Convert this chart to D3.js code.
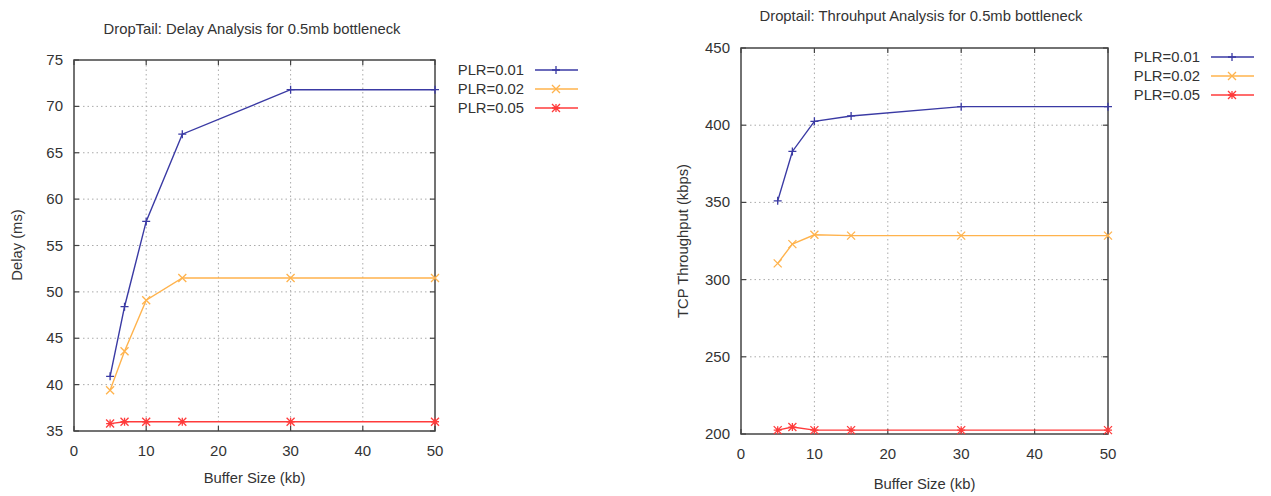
<!DOCTYPE html>
<html>
<head>
<meta charset="utf-8">
<script src="https://cdn.jsdelivr.net/npm/d3@7"></script>
<style>
  body { margin: 0; background: #fff; }
  svg { display: block; font-family: "Liberation Sans", Arial, sans-serif; }
  .grid line { stroke: #aaa; stroke-dasharray: 1.5 3; }
  .tick-label { font-size: 15px; fill: #333; }
  .title, .axis-title, .legend text { font-size: 14.8px; fill: #333; }
</style>
</head>
<body>
<div class="charts"></div>
<script>
// data
var bufferSizes = [5, 7, 10, 15, 30, 50];
var plrLabels = ["PLR=0.01", "PLR=0.02", "PLR=0.05"];

var delay001 = [40.9, 48.4, 57.6, 67.0, 71.8, 71.8];
var delay002 = [39.4, 43.6, 49.1, 51.5, 51.5, 51.5];
var delay005 = [35.8, 36.0, 36.0, 36.0, 36.0, 36.0];

var thru001 = [351, 383, 402.5, 406, 412, 412];
var thru002 = [310.5, 323, 329, 328.5, 328.5, 328.5];
var thru005 = [202.5, 204.5, 202.5, 202.5, 202.5, 202.5];

var xTicks = [0, 10, 20, 30, 40, 50];
var delayTicks = [35, 40, 45, 50, 55, 60, 65, 70, 75];
var thruTicks = [200, 250, 300, 350, 400, 450];

var colors = ["#3a3aa4", "#ffb34d", "#ff3b3b"];
var markers = ["plus", "cross", "star"];

var svg = d3.select('.charts')
    .append('svg')
    .attr("width", 1271)
    .attr("height", 496);

function marker(g, type, x, y, color) {
    var s = 4;
    var p = "";
    if (type == "plus" || type == "star") {
        p += "M" + (x - s) + "," + y + "h" + (2 * s) + "M" + x + "," + (y - s) + "v" + (2 * s);
    }
    if (type == "cross" || type == "star") {
        p += "M" + (x - s) + "," + (y - s) + "l" + (2 * s) + "," + (2 * s) +
             "M" + (x - s) + "," + (y + s) + "l" + (2 * s) + "," + (-2 * s);
    }
    g.append("path").attr("d", p).attr("stroke", color).attr("stroke-width", 1.3).attr("fill", "none");
}

function drawChart(opt) {
    var x = d3.scaleLinear().domain([0, 50]).range(opt.xRange);
    var y = d3.scaleLinear().domain(d3.extent(opt.yTicks)).range(opt.yRange);
    var g = svg.append("g");

    // dotted grid
    var grid = g.append("g").attr("class", "grid");
    grid.selectAll(".gx").data(xTicks.slice(1, -1)).enter().append("line")
        .attr("x1", d => x(d)).attr("x2", d => x(d))
        .attr("y1", opt.yRange[0]).attr("y2", opt.yRange[1]);
    grid.selectAll(".gy").data(opt.yTicks.slice(1, -1)).enter().append("line")
        .attr("y1", d => y(d)).attr("y2", d => y(d))
        .attr("x1", opt.xRange[0]).attr("x2", opt.xRange[1]);

    // frame with inward ticks on all sides
    var axisColor = "#444";
    g.append("rect")
        .attr("x", opt.xRange[0]).attr("y", opt.yRange[1])
        .attr("width", opt.xRange[1] - opt.xRange[0])
        .attr("height", opt.yRange[0] - opt.yRange[1])
        .attr("fill", "none").attr("stroke", axisColor).attr("stroke-width", 1.5);

    var tl = 5;
    xTicks.forEach(function(t) {
        g.append("line").attr("x1", x(t)).attr("x2", x(t))
            .attr("y1", opt.yRange[0]).attr("y2", opt.yRange[0] - tl)
            .attr("stroke", axisColor).attr("stroke-width", 1.2);
        g.append("line").attr("x1", x(t)).attr("x2", x(t))
            .attr("y1", opt.yRange[1]).attr("y2", opt.yRange[1] + tl)
            .attr("stroke", axisColor).attr("stroke-width", 1.2);
        g.append("text").attr("class", "tick-label")
            .attr("x", x(t)).attr("y", opt.yRange[0] + 25)
            .attr("text-anchor", "middle").text(t);
    });
    opt.yTicks.forEach(function(t) {
        g.append("line").attr("y1", y(t)).attr("y2", y(t))
            .attr("x1", opt.xRange[0]).attr("x2", opt.xRange[0] + tl)
            .attr("stroke", axisColor).attr("stroke-width", 1.2);
        g.append("line").attr("y1", y(t)).attr("y2", y(t))
            .attr("x1", opt.xRange[1]).attr("x2", opt.xRange[1] - tl)
            .attr("stroke", axisColor).attr("stroke-width", 1.2);
        g.append("text").attr("class", "tick-label")
            .attr("x", opt.xRange[0] - 11).attr("y", y(t) + 5)
            .attr("text-anchor", "end").text(t);
    });

    // titles
    g.append("text").attr("class", "title")
        .attr("x", opt.titlePos[0]).attr("y", opt.titlePos[1])
        .attr("text-anchor", "middle").text(opt.title);
    g.append("text").attr("class", "axis-title")
        .attr("x", (opt.xRange[0] + opt.xRange[1]) / 2).attr("y", opt.xTitleY)
        .attr("text-anchor", "middle").text("Buffer Size (kb)");
    g.append("text").attr("class", "axis-title")
        .attr("transform", "translate(" + opt.yTitlePos[0] + "," + opt.yTitlePos[1] + ") rotate(-90)")
        .attr("text-anchor", "middle").text(opt.yTitle);

    // series
    var line = d3.line()
        .x(function(d) { return x(d[0]); })
        .y(function(d) { return y(d[1]); });

    opt.series.forEach(function(vals, i) {
        var pts = bufferSizes.map(function(b, j) { return [b, vals[j]]; });
        g.append("path")
            .datum(pts)
            .attr("d", line)
            .attr("fill", "none")
            .attr("stroke", colors[i])
            .attr("stroke-width", 1.4);
        pts.forEach(function(p) { marker(g, markers[i], x(p[0]), y(p[1]), colors[i]); });
    });

    // legend
    var lg = g.append("g").attr("class", "legend");
    plrLabels.forEach(function(lab, i) {
        var ly = opt.legendPos[1] + i * 19;
        lg.append("text").attr("x", opt.legendPos[0]).attr("y", ly + 5)
            .attr("text-anchor", "end").text(lab);
        lg.append("line").attr("x1", opt.legendPos[0] + 11).attr("x2", opt.legendPos[0] + 54)
            .attr("y1", ly).attr("y2", ly)
            .attr("stroke", colors[i]).attr("stroke-width", 1.4);
        marker(lg, markers[i], opt.legendPos[0] + 32, ly, colors[i]);
    });
}

drawChart({
    xRange: [74, 435],
    yRange: [431, 60],
    yTicks: delayTicks,
    series: [delay001, delay002, delay005],
    title: "DropTail: Delay Analysis for 0.5mb bottleneck",
    titlePos: [252, 34],
    xTitleY: 483,
    yTitle: "Delay (ms)",
    yTitlePos: [22, 245],
    legendPos: [524, 70]
});

drawChart({
    xRange: [741, 1108],
    yRange: [434, 48],
    yTicks: thruTicks,
    series: [thru001, thru002, thru005],
    title: "Droptail: Throuhput Analysis for 0.5mb bottleneck",
    titlePos: [921, 21],
    xTitleY: 489,
    yTitle: "TCP Throughput (kbps)",
    yTitlePos: [688, 241],
    legendPos: [1200, 57]
});
</script>
</body>
</html>
